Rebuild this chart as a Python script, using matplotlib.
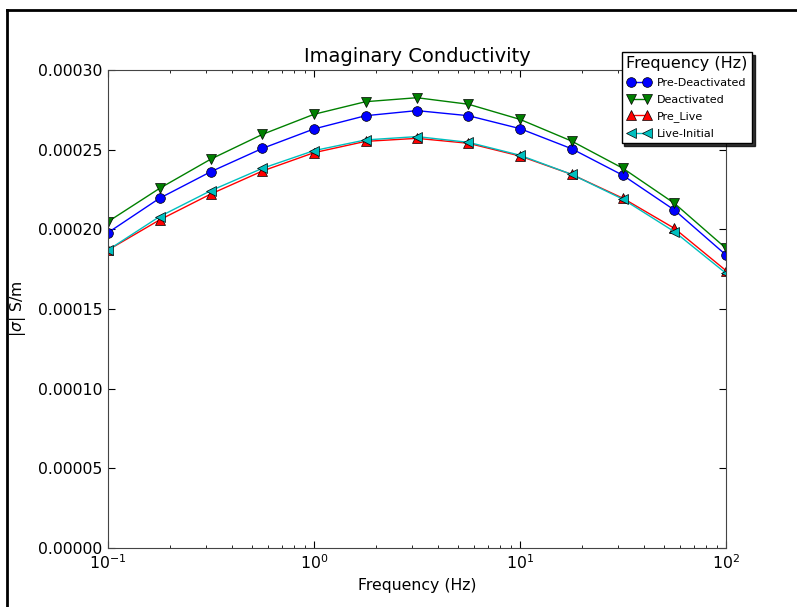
import numpy as np
import matplotlib
matplotlib.use("Agg")
import matplotlib.pyplot as plt
from matplotlib.lines import Line2D

freq = [0.1, 0.178, 0.316, 0.562, 1.0, 1.78, 3.16, 5.62, 10.0, 17.8, 31.6, 56.2, 100.0]

pre_deact = [1.979e-4, 2.195e-4, 2.362e-4, 2.508e-4, 2.630e-4, 2.713e-4, 2.745e-4,
             2.713e-4, 2.632e-4, 2.506e-4, 2.339e-4, 2.121e-4, 1.839e-4]
deact = [2.048e-4, 2.257e-4, 2.441e-4, 2.596e-4, 2.722e-4, 2.801e-4, 2.826e-4,
         2.785e-4, 2.690e-4, 2.554e-4, 2.383e-4, 2.163e-4, 1.881e-4]
pre_live = [1.870e-4, 2.059e-4, 2.222e-4, 2.366e-4, 2.481e-4, 2.552e-4, 2.571e-4,
            2.540e-4, 2.460e-4, 2.345e-4, 2.195e-4, 2.006e-4, 1.741e-4]
live_init = [1.870e-4, 2.080e-4, 2.243e-4, 2.383e-4, 2.494e-4, 2.561e-4, 2.582e-4,
             2.546e-4, 2.465e-4, 2.345e-4, 2.189e-4, 1.985e-4, 1.724e-4]

fig = plt.figure(figsize=(7.97, 6.07), dpi=100)
ax = fig.add_axes([0.1355, 0.0972, 0.7754, 0.7875])

mk = dict(markeredgecolor='k', markeredgewidth=0.5, markersize=7, linewidth=1)
ax.plot(freq, pre_deact, 'b-o', label='Pre-Deactivated', **mk)
ax.plot(freq, deact, 'g-v', label='Deactivated', **mk)
ax.plot(freq, pre_live, 'r-^', label='Pre_Live', **mk)
ax.plot(freq, live_init, 'c-<', color=(0, 0.75, 0.75), label='Live-Initial', **mk)

ax.set_xscale('log')
ax.set_xlim(0.1, 100)
ax.set_ylim(0, 0.0003)
ax.set_yticks(np.arange(0, 0.00031, 0.00005))
ax.set_yticklabels(['%.5f' % v for v in np.arange(0, 0.00031, 0.00005)])
ax.tick_params(which='both', direction='in', top=True, right=True, labelsize=11.3)
ax.tick_params(which='major', length=5, pad=4)
ax.tick_params(which='minor', length=2.5)
for s in ax.spines.values():
    s.set_color('#444444')

ax.set_title('Imaginary Conductivity', fontsize=14)
ax.set_xlabel('Frequency (Hz)', fontsize=11.3)
ax.set_ylabel(r'$|\sigma|$ S/m', fontsize=11.3, labelpad=7)

leg = ax.legend(title='Frequency (Hz)', loc='upper right', bbox_to_anchor=(1.042, 1.038),
                borderaxespad=0, fontsize=8, numpoints=2, fancybox=False,
                shadow={'color': 'k', 'alpha': 0.8}, handlelength=2, labelspacing=0.6,
                borderpad=0.4, handletextpad=0.6)
leg.get_title().set_fontsize(11.5)
leg.get_frame().set_edgecolor('k')
leg.get_frame().set_linewidth(1)

# frame of the screenshot
fig.add_artist(Line2D([7.5 / 797, 7.5 / 797], [0, 1 - 10 / 607], color='k', lw=2))
fig.add_artist(Line2D([7.5 / 797, 1], [1 - 10 / 607, 1 - 10 / 607], color='k', lw=2))

fig.savefig('out.png', dpi=100)
